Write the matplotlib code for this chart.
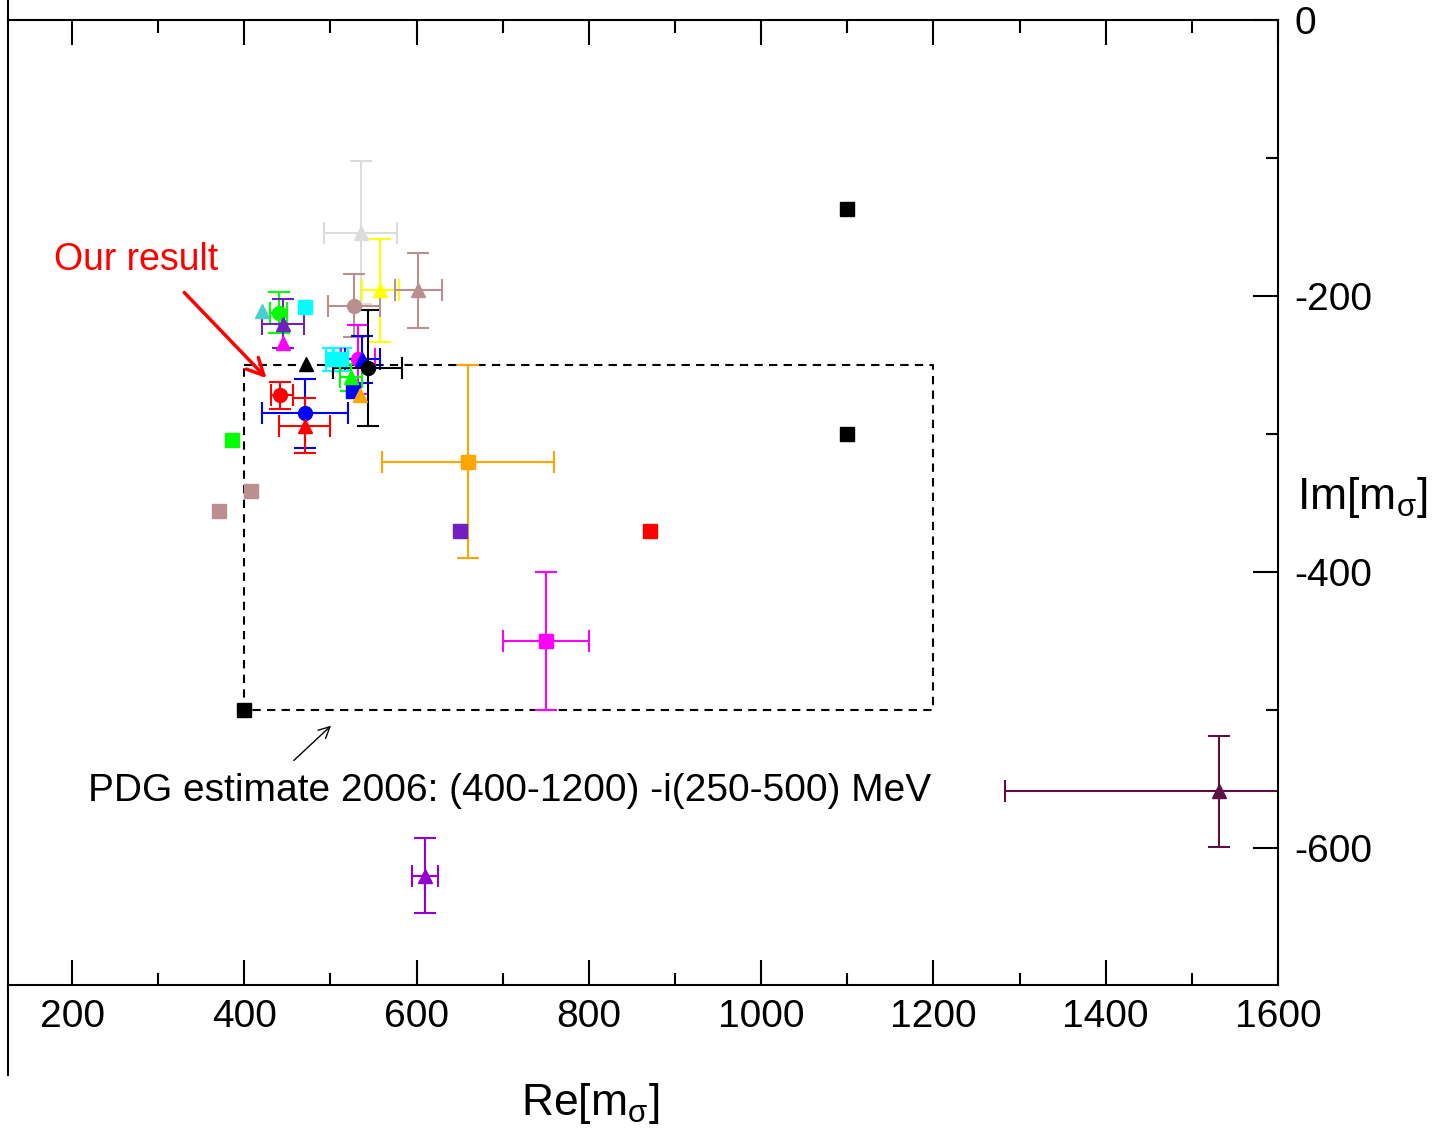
import matplotlib.pyplot as plt
from matplotlib.ticker import MultipleLocator
from matplotlib.lines import Line2D

plt.rcParams['font.family'] = ['Liberation Sans', 'DejaVu Sans']
plt.rcParams['axes.unicode_minus'] = False
plt.rcParams['mathtext.fontset'] = 'custom'
plt.rcParams['mathtext.rm'] = 'Liberation Sans'
plt.rcParams['mathtext.it'] = 'Liberation Sans'

# points with error bars: (re, im, xerr, yerr, colour, marker)
err_points = [
    (660, -320, 100, 70, 'orange', 's'),
    (750, -450, 50, 50, 'magenta', 's'),
    (1531, -559, [[248], [100]], 40, '#5c1048', '^'),
    (610, -620, 15, 27, 'darkviolet', '^'),
    (535, -154, 42, 52, '#dcdcdc', '^'),
    (558, -196, 22, 37, 'yellow', '^'),
    (602, -196, 27, 27, 'rosybrown', '^'),
    (527, -207, 30, 23, 'rosybrown', 'o'),
    (440, -212, 10, 15, 'lime', 'o'),
    (445, -220, 24, 18, '#7020c0', '^'),
    (503, -246, 8, 8, 'cyan', 's'),
    (512, -246, 8, 8, 'cyan', 's'),
    (532, -246, 20, 25, 'magenta', 'o'),
    (537, -246, 20, 17, 'blue', '^'),
    (543, -252, 40, 42, 'black', 'o'),
    (524, -259, 13, 10, 'lime', '^'),
    (441, -272, [[10], [15]], 10, 'red', 'o'),
    (470, -285, 50, 25, 'blue', 'o'),
    (470, -294, 30, 20, 'red', '^'),
]

# points without error bars
plain_points = [
    (1100, -137, 'black', 's'),
    (1100, -300, 'black', 's'),
    (400, -500, 'black', 's'),
    (871, -370, 'red', 's'),
    (650, -370, '#7020c0', 's'),
    (370, -356, 'rosybrown', 's'),
    (408, -341, 'rosybrown', 's'),
    (386, -304, 'lime', 's'),
    (420, -211, 'mediumturquoise', '^'),
    (470, -208, 'cyan', 's'),
    (445, -234, 'magenta', '^'),
    (471, -249, 'black', '^'),
    (526, -269, 'blue', 's'),
    (534, -272, 'orange', '^'),
]

# PDG box
pdg_re = [400, 1200]
pdg_im = [-250, -500]

fig = plt.figure(figsize=(14.46, 11.35), dpi=100)
ax = fig.add_axes([8/1446, 1-985/1135, 1270/1446, 965/1135])

ax.plot([pdg_re[0], pdg_re[1], pdg_re[1], pdg_re[0], pdg_re[0]],
        [pdg_im[0], pdg_im[0], pdg_im[1], pdg_im[1], pdg_im[0]],
        ls='--', color='black', lw=1.5, dashes=(4, 3))

for x, y, xe, ye, c, m in err_points:
    ax.errorbar(x, y, xerr=xe, yerr=ye, color=c, marker=m, ms=10, lw=1.5,
                capsize=8, capthick=1.5)
for x, y, c, m in plain_points:
    ax.plot(x, y, marker=m, color=c, ms=10, ls='none')

ax.text(179, -174, 'Our result', color='red', fontsize=27, va='center')
ax.annotate('', xy=(428, -261), xytext=(328, -196),
            arrowprops=dict(arrowstyle='->', color='red', lw=2.5, mutation_scale=30))
ax.text(219, -559, 'PDG estimate 2006: (400-1200) -i(250-500) MeV',
        fontsize=28, va='center')
ax.annotate('', xy=(503, -510), xytext=(455, -538),
            arrowprops=dict(arrowstyle='->', color='black', lw=1, mutation_scale=20))

ax.set_xlim(125.6, 1600)
ax.set_ylim(-699.3, 0)
ax.xaxis.set_major_locator(MultipleLocator(200))
ax.xaxis.set_minor_locator(MultipleLocator(100))
ax.yaxis.set_major_locator(MultipleLocator(200))
ax.yaxis.set_minor_locator(MultipleLocator(100))
ax.yaxis.tick_right()
ax.tick_params(axis='x', which='both', direction='in', top=True, bottom=True,
               labelsize=28, pad=10, width=1.5)
ax.tick_params(axis='y', which='both', direction='in', left=False, right=True,
               labelsize=28, pad=12, width=1.5)
ax.tick_params(which='major', length=18)
ax.tick_params(which='minor', length=9)
for s in ax.spines.values():
    s.set_linewidth(1.5)
ax.spines['left'].set_visible(False)

fig.add_artist(Line2D([8/1446, 8/1446], [1, 1-1075/1135], color='black', lw=1.5))
fig.text(590/1446, 1-1103/1135, r'Re[m$_\mathrm{σ}$]', fontsize=32, ha='center', va='center')
fig.text(1362/1446, 1-497/1135, r'Im[m$_\mathrm{σ}$]', fontsize=32, ha='center', va='center')

fig.savefig('out.png', dpi=100)
